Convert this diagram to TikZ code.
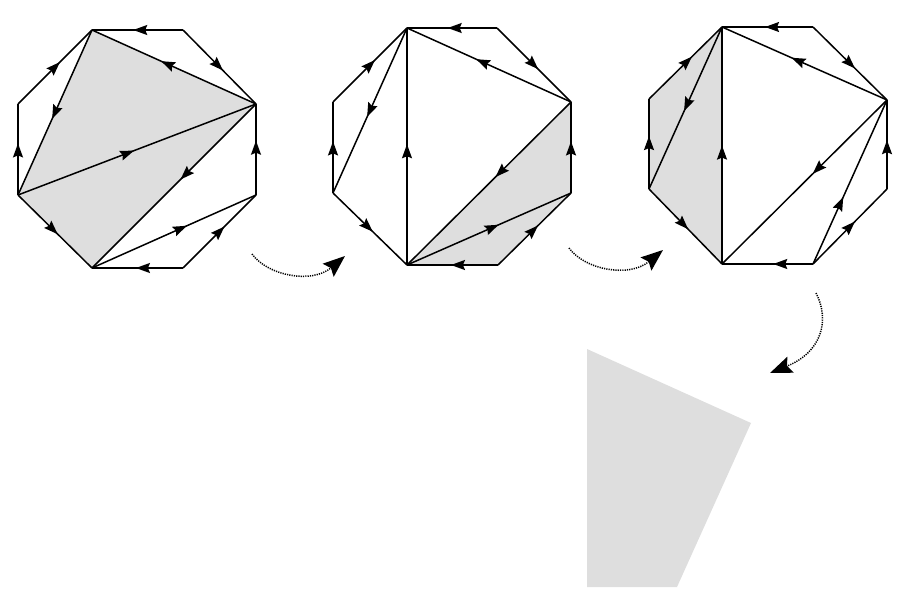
\documentclass[tikz,border=0pt]{standalone}
\usetikzlibrary{arrows.meta,decorations.markings}
\definecolor{shade}{RGB}{222,222,222}
\tikzset{
  seg/.style={line width=1.5pt, postaction={decorate, decoration={markings,
     mark=at position #1 with {\pgftransformxshift{7pt}\arrow{Stealth[length=14pt,width=10pt,inset=2pt]}}}}},
  seg/.default=0.5,
  flow/.style={line width=1.5pt, dash pattern=on 1.2pt off 1.1pt,
     -{Stealth[length=22pt,width=17pt,inset=3.5pt]}},
  region/.style={fill=shade, draw=none}
}
\begin{document}
\begin{tikzpicture}[x=1pt,y=-1pt]
\useasboundingbox (0,0) rectangle (899,604);
% octagon 1
\coordinate (a1) at (92,30);  \coordinate (b1) at (183,30);
\coordinate (c1) at (256,104); \coordinate (d1) at (256,195);
\coordinate (e1) at (183,268); \coordinate (f1) at (92,268);
\coordinate (g1) at (18,195);  \coordinate (h1) at (18,104);
% octagon 2
\coordinate (a2) at (407,28);  \coordinate (b2) at (497,28);
\coordinate (c2) at (571,102); \coordinate (d2) at (571,193);
\coordinate (e2) at (498,265); \coordinate (f2) at (407,265);
\coordinate (g2) at (333,193); \coordinate (h2) at (333,102);
% octagon 3
\coordinate (a3) at (722,27);  \coordinate (b3) at (813,27);
\coordinate (c3) at (887,100); \coordinate (d3) at (887,189);
\coordinate (e3) at (813,264); \coordinate (f3) at (722,264);
\coordinate (g3) at (649,189); \coordinate (h3) at (649,99);
% final piece
\coordinate (q1) at (587,349); \coordinate (q2) at (751,423);
\coordinate (q3) at (677,587); \coordinate (q4) at (587,587);

% shaded regions
\fill[region] (a1) -- (c1) -- (f1) -- (g1) -- cycle;
\fill[region] (c2) -- (d2) -- (e2) -- (f2) -- cycle;
\fill[region] (a3) -- (f3) -- (g3) -- (h3) -- cycle;
\fill[region] (q1) -- (q2) -- (q3) -- (q4) -- cycle;

% octagon 1 edges
\draw[seg=0.47] (b1) -- (a1);
\draw[seg=0.48] (b1) -- (c1);
\draw[seg=0.52] (d1) -- (c1);
\draw[seg=0.50] (e1) -- (d1);
\draw[seg=0.44] (e1) -- (f1);
\draw[seg=0.47] (g1) -- (f1);
\draw[seg=0.49] (g1) -- (h1);
\draw[seg=0.50] (h1) -- (a1);
\draw[seg=0.54] (c1) -- (a1);
\draw[seg=0.50] (a1) -- (g1);
\draw[seg=0.46] (g1) -- (c1);
\draw[seg=0.43] (c1) -- (f1);
\draw[seg=0.54] (f1) -- (d1);

% octagon 2 edges
\draw[seg=0.47] (b2) -- (a2);
\draw[seg=0.49] (b2) -- (c2);
\draw[seg=0.49] (d2) -- (c2);
\draw[seg=0.48] (e2) -- (d2);
\draw[seg=0.44] (e2) -- (f2);
\draw[seg=0.47] (g2) -- (f2);
\draw[seg=0.49] (g2) -- (h2);
\draw[seg=0.50] (h2) -- (a2);
\draw[seg=0.54] (c2) -- (a2);
\draw[seg=0.50] (a2) -- (g2);
\draw[seg=0.48] (f2) -- (a2);
\draw[seg=0.43] (c2) -- (f2);
\draw[seg=0.52] (f2) -- (d2);

% octagon 3 edges
\draw[seg=0.45] (b3) -- (a3);
\draw[seg=0.50] (b3) -- (c3);
\draw[seg=0.47] (d3) -- (c3);
\draw[seg=0.50] (e3) -- (d3);
\draw[seg=0.36] (e3) -- (f3);
\draw[seg=0.47] (g3) -- (f3);
\draw[seg=0.51] (g3) -- (h3);
\draw[seg=0.52] (h3) -- (a3);
\draw[seg=0.54] (c3) -- (a3);
\draw[seg=0.48] (a3) -- (g3);
\draw[seg=0.47] (f3) -- (a3);
\draw[seg=0.42] (c3) -- (f3);
\draw[seg=0.37] (e3) -- (c3);

% dotted transition arrows
\coordinate (s1) at (252,254); \coordinate (t1) at (345,256);
\coordinate (s2) at (569,248); \coordinate (t2) at (663,250);
\coordinate (s3) at (816,293); \coordinate (t3) at (770,373);
\draw[flow] (s1) .. controls (268,276) and (312,284) .. (t1);
\draw[flow] (s2) .. controls (585,270) and (629,278) .. (t2);
\draw[flow] (s3) .. controls (830,320) and (822,352) .. (t3);
\end{tikzpicture}
\end{document}
